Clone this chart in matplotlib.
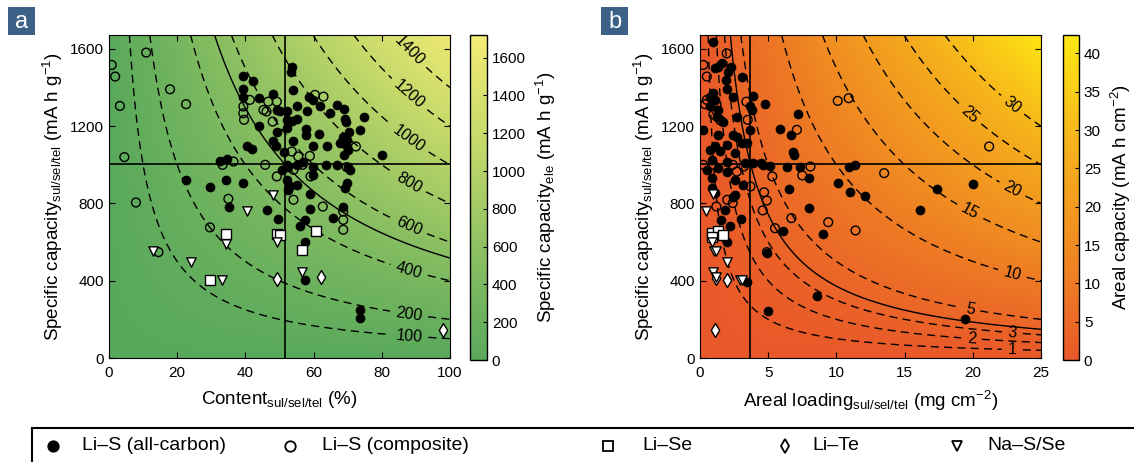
import numpy as np
import matplotlib.pyplot as plt
from matplotlib.colors import LinearSegmentedColormap
from matplotlib.lines import Line2D
from matplotlib.patches import Rectangle

plt.rcParams['font.family'] = ['Liberation Sans', 'DejaVu Sans']
plt.rcParams['mathtext.fontset'] = 'custom'
plt.rcParams['mathtext.rm'] = 'Liberation Sans'
plt.rcParams['mathtext.default'] = 'regular'
plt.rcParams['lines.dashed_pattern'] = (5.8, 3.8)

# ---- panel a: content (%) vs specific capacity (mA h g-1) ----
a_carbon_x = [39.4, 42.3, 39.4, 39.4, 44.1, 48.2, 49.2, 50.2, 53.9, 53.6, 53.3, 58.7, 61.9, 59.9, 66.8,
              69.0, 64.8, 52.1, 55.2, 58.0, 74.8, 69.2, 69.5, 52.1, 55.0, 53.8, 44.1, 49.2, 52.1, 57.7,
              57.8, 61.6, 73.6, 70.5, 68.7, 69.7, 48.2, 54.1, 40.4, 41.8, 48.9, 59.9, 63.8, 67.7, 69.5,
              70.2, 68.9, 80.0, 51.2, 32.6, 34.5, 52.1, 50.6, 52.6, 55.0, 57.0, 59.9, 63.6, 66.8, 70.2,
              70.7, 69.7, 69.2, 22.6, 29.6, 34.3, 39.4, 52.1, 52.6, 53.1, 55.0, 58.9, 58.9, 46.2, 35.2,
              49.7, 57.5, 56.0, 65.8, 68.7, 57.5, 57.5, 73.6, 73.6, 59.9]
a_carbon_y = [1460, 1436, 1391, 1353, 1345, 1367, 1284, 1276, 1388, 1505, 1483, 1353, 1305, 1336, 1310,
              1291, 1267, 1276, 1302, 1276, 1246, 1236, 1224, 1233, 1236, 1229, 1202, 1172, 1190, 1186,
              1155, 1160, 1181, 1172, 1146, 1129, 1121, 1121, 1098, 1081, 1095, 1098, 1098, 1112, 1103,
              1078, 1052, 1052, 1064, 1020, 1029, 1000, 974, 991, 1000, 1017, 988, 1000, 1000, 991,
              974, 905, 879, 922, 884, 922, 908, 922, 871, 888, 896, 848, 772, 767, 781,
              721, 712, 681, 727, 781, 603, 402, 246, 207, 948]
a_comp_x = [0.8, 1.8, 10.9, 3.2, 17.9, 22.6, 4.5, 7.9, 14.5, 29.6, 35.0, 33.3, 36.5, 39.4, 39.4,
            39.6, 41.3, 45.3, 46.7, 49.2, 48.0, 46.2, 45.8, 49.2, 53.6, 54.1, 54.1, 55.5, 56.8, 58.9,
            60.4, 62.9, 62.7, 59.1, 72.4, 68.7, 68.7, 68.7, 69.7]
a_comp_y = [1517, 1457, 1581, 1305, 1391, 1314, 1040, 805, 548, 676, 824, 1000, 1017, 1302, 1267,
            1233, 1336, 1284, 1327, 1327, 1224, 1276, 1000, 940, 1069, 974, 819, 1043, 1000, 1046,
            1362, 1353, 784, 940, 1095, 758, 715, 664, 988]
a_se_x = [34.3, 49.2, 50.1, 60.6, 56.7, 29.6]
a_se_y = [643, 643, 638, 655, 557, 402]
a_te_x = [49.2, 62.2, 98.0]
a_te_y = [409, 419, 147]
a_na_x = [13.0, 24.0, 33.0, 34.3, 40.4, 48.1, 49.2, 56.7]
a_na_y = [552, 495, 402, 590, 762, 845, 603, 445]
a_levels = [100, 200, 400, 600, 800, 1000, 1200, 1400]
a_cross = (51.5, 1005)

# ---- panel b: areal loading (mg cm-2) vs specific capacity ----
b_carbon_x = [0.98, 1.34, 1.1, 1.59, 2.25, 2.08, 1.9, 3.05, 1.96, 0.98, 0.73, 1.1, 2.4, 3.9, 4.77,
              3.67, 0.73, 1.34, 1.22, 2.69, 3.79, 1.71, 0.24, 3.67, 1.34, 2.44, 2.69, 3.05, 1.96, 1.1,
              2.57, 1.47, 0.73, 3.42, 0.86, 1.96, 3.3, 3.9, 4.5, 0.49, 1.34, 1.96, 2.57, 0.86, 0.86,
              3.18, 1.1, 2.44, 2.57, 1.83, 1.52, 2.2, 2.98, 1.96, 3.42, 4.94, 5.0,
              7.2, 5.9, 6.7, 6.8, 6.9, 4.6, 5.1, 6.4, 7.3, 8.0, 6.5, 10.1, 10.9, 11.4, 11.0, 12.1,
              17.4, 16.1, 20.0, 8.0, 6.1, 9.0, 8.6, 19.4]
b_carbon_y = [1638, 1508, 1500, 1526, 1508, 1482, 1440, 1456, 1393, 1370, 1353, 1336, 1353, 1358, 1314,
              1306, 1306, 1284, 1250, 1250, 1284, 1224, 1181, 1181, 1155, 1155, 1146, 1112, 1103, 1095,
              1060, 1069, 1078, 1112, 1026, 1017, 1008, 1008, 1008, 974, 983, 965, 922, 931, 879,
              896, 853, 831, 845, 767, 715, 684, 719, 603, 396, 546, 241,
              1264, 1186, 1155, 1064, 1052, 1000, 995, 991, 991, 931, 874, 905, 991, 1000, 858, 841,
              874, 767, 900, 776, 655, 641, 319, 202]
b_comp_x = [1.96, 0.24, 0.5, 0.5, 3.4, 3.5, 7.1, 10.1, 10.9, 21.2, 13.5, 8.1, 7.5, 5.3, 4.7,
            4.9, 4.6, 6.7, 5.5, 9.4, 11.4, 4.9, 0.24, 2.7, 3.2, 3.7, 2.0, 1.2, 2.4, 0.37,
            0.98, 1.2, 1.5, 1.0, 2.4]
b_comp_y = [1577, 1517, 1457, 1336, 1327, 1233, 1181, 1331, 1345, 1095, 957, 991, 945, 940, 858,
            815, 764, 724, 672, 703, 660, 548, 1000, 965, 991, 888, 819, 784, 802, 1314,
            1260, 1280, 1230, 1000, 1000]
b_se_x = [0.86, 1.3, 1.66, 0.86]
b_se_y = [646, 655, 638, 625]
b_te_x = [2.0, 1.17, 1.1]
b_te_y = [402, 414, 147]
b_na_x = [0.98, 0.44, 0.86, 1.03, 1.17, 2.0, 0.98, 1.17, 2.93, 3.1]
b_na_y = [850, 763, 603, 555, 555, 497, 443, 420, 405, 405]
b_levels = [1, 2, 3, 5, 10, 15, 20, 25, 30]
b_cross = (3.7, 1005)

legend_names = ['Li–S (all-carbon)', 'Li–S (composite)', 'Li–Se', 'Li–Te', 'Na–S/Se']

green = LinearSegmentedColormap.from_list('g', ['#59a95c', '#8cc062', '#c4d96a', '#f3eb74'])
orange = LinearSegmentedColormap.from_list('o', ['#e9582a', '#f08a22', '#f6b21c', '#fee914'])

W, H = 1134, 462
fig = plt.figure(figsize=(W / 100, H / 100), dpi=100)


def fax(l, t, w, h):
    return fig.add_axes([l / W, 1 - (t + h) / H, w / W, h / H])


ylab = r'Specific capacity$_{\mathrm{sul/sel/tel}}$ (mA h g$^{-1}$)'


def panel(ax, cax, xmax, scale, cmap, vmax, levels, cross, label_pos, series, xlab, cblab, cbticks):
    ymax = 1672
    gx = np.linspace(0, xmax, 300)
    gy = np.linspace(0, ymax, 300)
    X, Y = np.meshgrid(gx, gy)
    Z = X * Y / scale
    im = ax.imshow(Z, extent=[0, xmax, 0, ymax], origin='lower', aspect='auto',
                   cmap=cmap, vmin=0, vmax=vmax, zorder=0)
    cs = ax.contour(X, Y, Z, levels=levels, colors='k', linewidths=1.0,
                    linestyles='dashed', zorder=1)
    ax.clabel(cs, fmt='%d', fontsize=11.5, inline=True, inline_spacing=6, manual=label_pos)
    ax.contour(X, Y, Z, levels=[cross[0] * cross[1] / scale], colors='k',
               linewidths=1.0, zorder=1)
    ax.axvline(cross[0], color='k', lw=1.2, zorder=2)
    ax.axhline(cross[1], color='k', lw=1.2, zorder=2)

    (cx, cy), (ox, oy), (sx, sy), (tx, ty), (nx, ny) = series
    ax.scatter(ox, oy, s=40, marker='o', facecolors='none', edgecolors='k', linewidths=1.0, zorder=3)
    ax.scatter(cx, cy, s=42, marker='o', facecolors='k', edgecolors='k', linewidths=0.5, zorder=4)
    ax.scatter(sx, sy, s=45, marker='s', facecolors='white', edgecolors='k', linewidths=1.0, zorder=5)
    ax.scatter(tx, ty, s=50, marker='d', facecolors='white', edgecolors='k', linewidths=1.0, zorder=5)
    ax.scatter(nx, ny, s=45, marker='v', facecolors='white', edgecolors='k', linewidths=1.0, zorder=5)

    ax.set_xlim(0, xmax)
    ax.set_ylim(0, ymax)
    ax.set_yticks([0, 400, 800, 1200, 1600])
    ax.tick_params(direction='in', top=True, right=True, labelsize=11, length=4)
    ax.tick_params(axis='x', pad=6)
    ax.set_xlabel(xlab, fontsize=13.5, labelpad=6)
    ax.set_ylabel(ylab, fontsize=13.5, labelpad=4)

    cb = fig.colorbar(im, cax=cax)
    cb.set_ticks(cbticks)
    cb.ax.tick_params(direction='in', labelsize=11, length=3)
    cb.set_label(cblab, fontsize=13.5, labelpad=6)
    cb.outline.set_linewidth(1.0)


ax_a = fax(109, 35, 341, 323)
cax_a = fax(470, 35, 17, 325)
panel(ax_a, cax_a, 100, 100, green, 1720, a_levels, a_cross,
      [(88, L * 100 / 88) for L in a_levels],
      [(a_carbon_x, a_carbon_y), (a_comp_x, a_comp_y), (a_se_x, a_se_y),
       (a_te_x, a_te_y), (a_na_x, a_na_y)],
      r'Content$_{\mathrm{sul/sel/tel}}$ (%)',
      r'Specific capacity$_{\mathrm{ele}}$ (mA h g$^{-1}$)',
      range(0, 1700, 200))
ax_a.set_xticks([0, 20, 40, 60, 80, 100])

ax_b = fax(700, 35, 341, 323)
cax_b = fax(1063, 35, 16, 325)
b_xl = [22.9, 19.9, 22.9, 19.8, 22.9, 19.8, 22.9, 19.8, 22.9]
panel(ax_b, cax_b, 25, 1000, orange, 42.4, b_levels, b_cross,
      [(x, L * 1000 / x) for x, L in zip(b_xl, b_levels)],
      [(b_carbon_x, b_carbon_y), (b_comp_x, b_comp_y), (b_se_x, b_se_y),
       (b_te_x, b_te_y), (b_na_x, b_na_y)],
      r'Areal loading$_{\mathrm{sul/sel/tel}}$ (mg cm$^{-2}$)',
      r'Areal capacity (mA h cm$^{-2}$)',
      range(0, 45, 5))
ax_b.set_xticks([0, 5, 10, 15, 20, 25])

# panel letters
for px, letter in [(8, 'a'), (601, 'b')]:
    fig.add_artist(Rectangle((px / W, 1 - 35 / H), 27 / W, 28 / H, transform=fig.transFigure,
                             facecolor='#3c6187', edgecolor='none'))
    fig.text((px + 13.5) / W, 1 - 21.5 / H, letter, color='white', fontsize=17,
             ha='center', va='center')

# legend strip along the bottom
fig.add_artist(Rectangle((32 / W, -0.1), 1.2, 1.1 - 428 / H, transform=fig.transFigure,
                         facecolor='none', edgecolor='k', lw=1.5))
leg_marks = [('o', 'k', 53, 82), ('o', 'none', 290, 322), ('s', 'white', 608, 642),
             ('d', 'white', 785, 812), ('v', 'white', 957, 987)]
for (m, fc, mx, tx), name in zip(leg_marks, legend_names):
    fig.add_artist(Line2D([mx / W], [1 - 446 / H], transform=fig.transFigure, marker=m,
                          markersize=7.5, markerfacecolor=fc, markeredgecolor='k',
                          markeredgewidth=1.3, linestyle='none'))
    fig.text(tx / W, 1 - 446 / H, name, fontsize=14, ha='left', va='center')

fig.savefig('out.png', dpi=100)
